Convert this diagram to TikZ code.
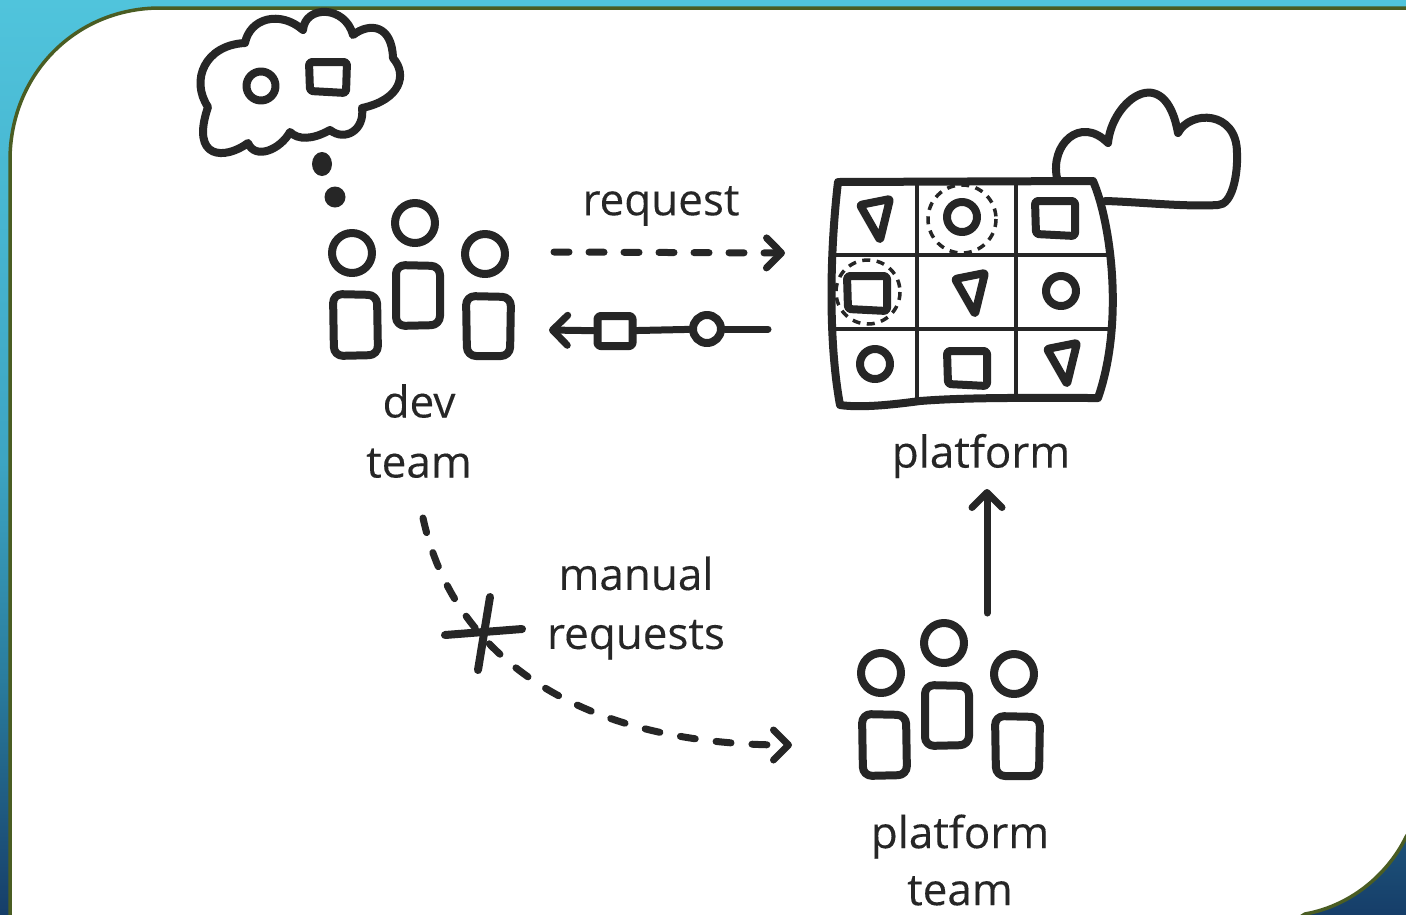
\documentclass[tikz,border=0pt]{standalone}
\usepackage{fontspec}
\setmainfont{Open Sans}
\usetikzlibrary{arrows.meta,positioning}
\definecolor{ink}{HTML}{262626}
\definecolor{skytop}{HTML}{50C4DC}
\definecolor{skyhalf}{HTML}{3DA5C3}
\definecolor{skymid}{HTML}{2A7D9E}
\definecolor{skylow}{HTML}{163E69}
\definecolor{rim}{HTML}{4A5D23}
\pgfdeclareverticalshading{backdrop}{100bp}{color(0bp)=(skylow); color(25bp)=(skylow); color(38bp)=(skymid); color(50bp)=(skyhalf); color(75bp)=(skytop); color(100bp)=(skytop)}
\tikzset{
    % Hand drawn outlines
    sketch/.style={draw=ink, line width=8pt, line join=round, line cap=round},
    thin sketch/.style={draw=ink, line width=4pt},
    dash ring/.style={draw=ink, line width=3.5pt, dash pattern=on 8pt off 6.5pt},
    % Arrow styles
    flow/.style={
        -{Straight Barb[length=15pt, width=30pt, round]},
        draw=ink, line width=7pt, line cap=round
    },
    dashflow/.style={flow, dash pattern=on 15pt off 20pt},
    % Tokens on the returning arrow
    token box/.style={rectangle, sketch, fill=white, rounded corners=3pt,
        minimum width=35pt, minimum height=30pt, inner sep=0pt},
    token dot/.style={circle, sketch, fill=white, minimum size=28pt, inner sep=0pt},
    % Label style
    label text/.style={
        font=\fontsize{44}{60}\selectfont\addfontfeature{FakeBold=0.2}, text=ink, align=center, inner sep=0pt
    },
    % Repeated icons
    people/.pic={
        \draw[sketch] (0,0) circle (20);
        \draw[sketch] (63,-30) circle (20);
        \draw[sketch] (133,1) circle (20);
        \draw[sketch, rounded corners=9pt] (-19,41) -- (25,42) -- (26,102) -- (-18,103) -- cycle;
        \draw[sketch, rounded corners=9pt] (44,12) -- (88,13) -- (88,72) -- (44,73) -- cycle;
        \draw[sketch, rounded corners=9pt] (114,43) -- (159,44) -- (158,103) -- (115,103) -- cycle;
    },
    wedge/.pic={
        \draw[sketch, rounded corners=2pt] (-15,-15) -- (15,-21) -- (5,20) -- cycle;
    },
    tile/.pic={
        \draw[sketch, rounded corners=3pt] (-20,-17) -- (20,-17) -- (20,18) -- (-19,16) -- cycle;
    }
}
\begin{document}
\begin{tikzpicture}[x=1pt, y=-1pt]
    \useasboundingbox (0,0) rectangle (1406,914);
    \clip (0,0) rectangle (1406,914);

    % Backdrop
    \shade[shading=backdrop] (0,0) rectangle (1406,914);
    \draw[draw=rim, fill=white, line width=3.5pt] (10,930) -- (10,160)
        .. controls (10,75) and (75,8) .. (160,8) -- (1420,8) -- (1420,815) -- (1406,837)
        .. controls (1390,870) and (1355,905) .. (1305,914) -- (1280,930) -- cycle;

    % Thought cloud
    \draw[sketch] (208,107) .. controls (190,80) and (205,45) .. (245,43)
        .. controls (250,18) and (280,10) .. (303,30)
        .. controls (305,5) and (345,5) .. (353,35)
        .. controls (370,22) and (392,25) .. (393,58)
        .. controls (408,75) and (400,100) .. (362,108)
        .. controls (365,130) and (345,142) .. (330,130)
        .. controls (312,140) and (298,140) .. (290,132)
        .. controls (280,150) and (255,160) .. (248,143)
        .. controls (225,160) and (190,160) .. cycle;
    \draw[sketch] (261,86) circle (14.5);
    \draw[sketch, rounded corners=3pt] (309,62) -- (347,62) -- (346,93) -- (310,91) -- cycle;
    \fill[ink] (322,164) ellipse (10 and 12);
    \fill[ink] (335,197) circle (10.5);

    % Dev team
    \pic (devpeople) at (352,253) {people};
    \node[label text] (devlabel) at (419,431) {dev\\team};

    % Cloud behind the platform
    \draw[sketch] (1057,178) .. controls (1050,145) and (1080,115) .. (1108,143)
        .. controls (1112,100) and (1165,60) .. (1178,133)
        .. controls (1190,110) and (1237,110) .. (1237,153)
        .. controls (1238,175) and (1232,205) .. (1218,205)
        .. controls (1185,207) and (1140,202) .. (1105,201);

    % Platform grid
    \draw[sketch, fill=white] (838,182) -- (1093,181)
        .. controls (1110,220) and (1125,320) .. (1098,398)
        .. controls (1040,398) and (970,397) .. (920,401)
        .. controls (890,405) and (860,408) .. (840,405)
        .. controls (828,340) and (830,250) .. cycle;
    \draw[thin sketch] (917,182) -- (917,402);
    \draw[thin sketch] (1016,182) -- (1016,398);
    \draw[thin sketch] (833,255) -- (1108,255);
    \draw[thin sketch] (833,329) -- (1112,329);

    % Platform contents
    \pic (wedgeone) at (875,220) {wedge};
    \draw[sketch] (962,217) circle (15);
    \draw[dash ring] (962,219) circle (34);
    \pic (tileone) at (1055,218) {tile};
    \pic (tiletwo) at (867,293) {tile};
    \draw[dash ring] (868,292) circle (32);
    \pic (wedgetwo) at (970,294) {wedge};
    \draw[sketch] (1061,291) circle (15);
    \draw[sketch] (875,364) circle (15);
    \pic (tilethree) at (967,368) {tile};
    \pic (wedgethree) at (1062,364) {wedge};
    \node[label text] (platformlabel) at (981,456) {platform};

    % Platform team
    \pic (platformpeople) at (881,673) {people};
    \node[label text] (platformteamlabel) at (960,860) {platform\\[-3pt]team};

    % Request and answer
    \node[label text] (requestlabel) at (661,206) {request};
    \coordinate (requestfrom) at (554,252);
    \coordinate (requestto) at (785,253);
    \draw[dashflow] (requestfrom) -- (requestto);
    \node[token box] (returnbox) at (615,331) {};
    \node[token dot] (returndot) at (707,329) {};
    \coordinate (returnfrom) at (768,329);
    \coordinate (returnto) at (549,330);
    \draw[flow, -] (returnfrom) -- (returndot);
    \draw[flow, -] (returndot) -- (returnbox);
    \draw[flow] (returnbox) -- (returnto);

    % Manual requests
    \node[label text] (manuallabel) at (636,608) {manual\\[-1pt]requests};
    \coordinate (manualfrom) at (423,518);
    \coordinate (manualto) at (792,745);
    \draw[dashflow, dash pattern=on 15pt off 21pt] (manualfrom) .. controls (455,665) and (590,745) .. (manualto);
    \draw[sketch] (445,635) -- (522,629);
    \draw[sketch] (490,597) -- (478,670);

    % Platform team feeds the platform
    \coordinate (feedfrom) at (987,613);
    \coordinate (feedto) at (987,489);
    \draw[flow] (feedfrom) -- (feedto);
\end{tikzpicture}
\end{document}
